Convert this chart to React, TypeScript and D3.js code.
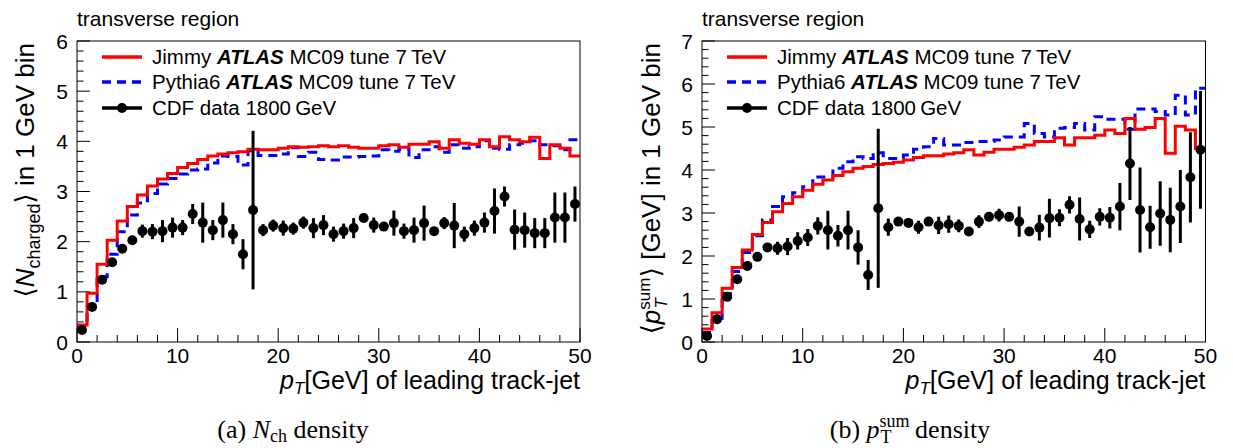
import React from 'react';
import * as d3 from 'd3';

// ---------- data (1 GeV bins, 0..50 GeV) ----------
const xTickValues = [0, 10, 20, 30, 40, 50];
const yTicksNch = [0, 1, 2, 3, 4, 5, 6];
const yTicksPt = [0, 1, 2, 3, 4, 5, 6, 7];

const jimmyNch = [0.34, 0.97, 1.55, 2.03, 2.41, 2.70, 2.93, 3.11, 3.25, 3.36, 3.48, 3.56, 3.64, 3.71, 3.75, 3.77, 3.79, 3.84, 3.83, 3.83, 3.86, 3.89, 3.88, 3.89, 3.91, 3.89, 3.91, 3.88, 3.86, 3.86, 3.91, 3.93, 3.88, 3.94, 3.94, 3.99, 3.86, 4.03, 3.96, 3.94, 4.03, 3.89, 4.09, 4.03, 3.99, 4.08, 3.66, 3.93, 3.86, 3.71];
const pythiaNch = [0.30, 0.70, 1.30, 1.75, 2.20, 2.53, 2.77, 2.96, 3.15, 3.26, 3.35, 3.43, 3.45, 3.57, 3.71, 3.70, 3.53, 3.81, 3.72, 3.72, 3.75, 3.87, 3.70, 3.78, 3.64, 3.63, 3.69, 3.69, 3.70, 3.71, 3.83, 3.80, 3.84, 3.68, 3.83, 3.89, 3.78, 3.93, 3.86, 3.89, 4.01, 3.86, 3.84, 3.93, 3.96, 4.01, 3.93, 3.91, 3.83, 4.03];
const cdfNch = [0.24, 0.70, 1.24, 1.59, 1.86, 2.03, 2.21, 2.20, 2.21, 2.28, 2.28, 2.55, 2.38, 2.23, 2.43, 2.15, 1.75, 2.63, 2.23, 2.32, 2.27, 2.26, 2.38, 2.27, 2.33, 2.15, 2.21, 2.27, 2.47, 2.33, 2.30, 2.37, 2.21, 2.23, 2.37, 2.21, 2.37, 2.32, 2.15, 2.27, 2.38, 2.61, 2.90, 2.24, 2.23, 2.17, 2.17, 2.48, 2.48, 2.75];
const cdfNchErr = [0.03, 0.03, 0.04, 0.05, 0.06, 0.08, 0.13, 0.15, 0.22, 0.2, 0.15, 0.2, 0.4, 0.2, 0.35, 0.2, 0.3, 1.58, 0.12, 0.12, 0.15, 0.12, 0.12, 0.2, 0.2, 0.15, 0.15, 0.2, 0.06, 0.15, 0.08, 0.25, 0.15, 0.25, 0.35, 0.08, 0.12, 0.45, 0.15, 0.15, 0.2, 0.45, 0.2, 0.4, 0.35, 0.3, 0.3, 0.5, 0.5, 0.35];

const jimmyPt = [0.30, 0.68, 1.25, 1.73, 2.14, 2.50, 2.78, 3.03, 3.22, 3.38, 3.53, 3.67, 3.77, 3.87, 3.96, 4.04, 4.08, 4.13, 4.15, 4.18, 4.23, 4.29, 4.33, 4.33, 4.37, 4.40, 4.47, 4.35, 4.41, 4.48, 4.48, 4.53, 4.58, 4.66, 4.66, 4.75, 4.58, 4.75, 4.75, 4.81, 4.93, 4.85, 5.20, 4.95, 4.99, 5.20, 4.39, 5.02, 4.93, 4.50];
const pythiaPt = [0.22, 0.55, 1.13, 1.64, 2.08, 2.47, 2.84, 3.15, 3.38, 3.47, 3.61, 3.84, 3.84, 4.04, 4.19, 4.31, 4.27, 4.40, 4.27, 4.27, 4.35, 4.48, 4.54, 4.73, 4.58, 4.58, 4.64, 4.66, 4.66, 4.70, 4.77, 4.77, 5.08, 4.85, 4.77, 4.97, 4.99, 5.08, 4.93, 5.24, 5.18, 5.18, 4.95, 5.42, 5.42, 5.36, 5.28, 5.74, 5.28, 5.90];
const cdfPt = [0.14, 0.53, 1.05, 1.46, 1.77, 1.98, 2.20, 2.18, 2.22, 2.35, 2.43, 2.70, 2.60, 2.47, 2.60, 2.20, 1.56, 3.11, 2.67, 2.80, 2.77, 2.67, 2.80, 2.71, 2.74, 2.70, 2.57, 2.80, 2.91, 2.95, 2.91, 2.80, 2.57, 2.66, 2.88, 2.89, 3.19, 2.86, 2.62, 2.91, 2.89, 3.15, 4.15, 3.07, 2.67, 2.99, 2.84, 3.15, 3.83, 4.47];
const cdfPtErr = [0.03, 0.03, 0.04, 0.05, 0.06, 0.07, 0.1, 0.15, 0.2, 0.2, 0.2, 0.2, 0.45, 0.25, 0.45, 0.4, 0.35, 1.85, 0.2, 0.08, 0.1, 0.15, 0.08, 0.2, 0.2, 0.15, 0.1, 0.15, 0.08, 0.15, 0.08, 0.35, 0.08, 0.3, 0.45, 0.2, 0.2, 0.5, 0.2, 0.2, 0.25, 0.55, 0.85, 0.99, 0.5, 0.75, 0.75, 0.85, 1.05, 1.37];

const legendLabels = ['Jimmy', 'Pythia6', 'CDF data 1800\u2009GeV'];

const SANS = "'Liberation Sans', Arial, Helvetica, 'DejaVu Sans', sans-serif";
const SERIF = "'Liberation Serif', 'Times New Roman', 'DejaVu Serif', serif";
const RED = '#ff0000';
const BLUE = '#0000ff';

type PanelProps = {
  id: string;
  left: number;
  right: number;
  yMax: number;
  yTicks: number[];
  jimmy: number[];
  pythia: number[];
  cdf: number[];
  cdfErr: number[];
  yTitle: React.ReactNode;
  yTitleX: number;
};

const TOP = 41;
const BOTTOM = 342;

function Panel(p: PanelProps) {
  const x = d3.scaleLinear().domain([0, 50]).range([p.left, p.right]);
  const y = d3.scaleLinear().domain([0, p.yMax]).range([BOTTOM, TOP]);
  const step = (vals: number[]) =>
    d3.line<[number, number]>().x(d => x(d[0])).y(d => y(d[1]))(
      vals.flatMap((v, i) => [[i, v], [i + 1, v]] as [number, number][])
    ) || '';
  const yMinor = d3.range(0, p.yMax + 0.001, 0.2);
  const xMinor = d3.range(0, 50.001, 2);
  const clipId = 'clip-' + p.id;
  const lx0 = p.left + 25;
  const lx1 = p.left + 65;
  const tx = p.left + 75;
  const rows = [57, 82, 108];
  return (
    <g>
      <defs>
        <clipPath id={clipId}>
          <rect x={p.left} y={TOP} width={p.right - p.left} height={BOTTOM - TOP} />
        </clipPath>
      </defs>
      {/* transverse region */}
      <text x={p.left} y={26} fontFamily={SANS} fontSize={21}>transverse region</text>
      {/* ticks */}
      {yMinor.map((v, i) => {
        const major = Math.abs(v - Math.round(v)) < 1e-6;
        return <line key={'ym' + i} x1={p.left} x2={p.left + (major ? 13 : 6.5)} y1={y(v)} y2={y(v)} stroke="#000" strokeWidth={1} />;
      })}
      {xMinor.map((v, i) => {
        const major = v % 10 === 0;
        return <line key={'xm' + i} x1={x(v)} x2={x(v)} y1={BOTTOM} y2={BOTTOM - (major ? 14 : 7)} stroke="#000" strokeWidth={1} />;
      })}
      {p.yTicks.map(v => (
        <text key={'yl' + v} x={p.left - 9} y={y(v)} dy="0.36em" textAnchor="end" fontFamily={SANS} fontSize={21}>{v}</text>
      ))}
      {xTickValues.map(v => (
        <text key={'xl' + v} x={x(v)} y={363} textAnchor="middle" fontFamily={SANS} fontSize={21}>{v}</text>
      ))}
      {/* histograms */}
      <g clipPath={`url(#${clipId})`}>
        <path d={step(p.pythia)} fill="none" stroke={BLUE} strokeWidth={3} strokeDasharray="9,6" />
        <path d={step(p.jimmy)} fill="none" stroke={RED} strokeWidth={3} />
        {p.cdf.map((v, i) => (
          <g key={'c' + i}>
            <line x1={x(i + 0.5)} x2={x(i + 0.5)} y1={y(v - p.cdfErr[i])} y2={y(v + p.cdfErr[i])} stroke="#000" strokeWidth={3} />
            <circle cx={x(i + 0.5)} cy={y(v)} r={5} fill="#000" />
          </g>
        ))}
      </g>
      {/* frame */}
      <rect x={p.left} y={TOP} width={p.right - p.left} height={BOTTOM - TOP} fill="none" stroke="#000" strokeWidth={1} />
      {/* legend */}
      <line x1={lx0} x2={lx1} y1={rows[0]} y2={rows[0]} stroke={RED} strokeWidth={3.5} />
      <line x1={lx0} x2={lx1} y1={rows[1]} y2={rows[1]} stroke={BLUE} strokeWidth={3.5} strokeDasharray="9,6" />
      <line x1={lx0} x2={lx1} y1={rows[2]} y2={rows[2]} stroke="#000" strokeWidth={3.5} />
      <circle cx={(lx0 + lx1) / 2} cy={rows[2]} r={5} fill="#000" />
      {[0, 1].map(k => (
        <text key={'lg' + k} x={tx} y={rows[k]} dy="0.36em" fontFamily={SANS} fontSize={20.5}>
          {legendLabels[k]} <tspan fontWeight="bold" fontStyle="italic">ATLAS</tspan> MC09 tune 7{'\u2009'}TeV
        </text>
      ))}
      <text x={tx} y={rows[2]} dy="0.36em" fontFamily={SANS} fontSize={20.5}>{legendLabels[2]}</text>
      {/* x title */}
      <text x={p.right} y={389} textAnchor="end" fontFamily={SANS} fontSize={25}>
        <tspan fontStyle="italic">p</tspan>
        <tspan fontStyle="italic" fontSize={17} dy={5}>T</tspan>
        <tspan dy={-5} fontSize={26}>[</tspan>GeV<tspan fontSize={26}>]</tspan> of leading track-jet
      </text>
      {/* y title */}
      <text transform={`translate(${p.yTitleX},43) rotate(-90)`} textAnchor="end" fontFamily={SANS} fontSize={26}>
        {p.yTitle}
      </text>
    </g>
  );
}

export default function App() {
  return (
    <svg width={1233} height={448} style={{ position: 'absolute', left: 0, top: 0, background: '#fff' }}>
      <rect width={1233} height={448} fill="#fff" />
      <Panel
        id="a" left={77} right={580} yMax={6} yTicks={yTicksNch}
        jimmy={jimmyNch} pythia={pythiaNch} cdf={cdfNch} cdfErr={cdfNchErr}
        yTitleX={34}
        yTitle={<>
          <tspan>⟨</tspan><tspan fontStyle="italic">N</tspan>
          <tspan fontSize={18} dy={6}>charged</tspan><tspan dy={-6}>⟩ in 1 GeV bin</tspan>
        </>}
      />
      <Panel
        id="b" left={702} right={1205.5} yMax={7} yTicks={yTicksPt}
        jimmy={jimmyPt} pythia={pythiaPt} cdf={cdfPt} cdfErr={cdfPtErr}
        yTitleX={660}
        yTitle={<>
          <tspan>⟨</tspan><tspan fontStyle="italic">p</tspan>
          <tspan fontSize={17} dy={-10}>sum</tspan>
          <tspan fontSize={17} fontStyle="italic" dx={-31} dy={17}>T</tspan>
          <tspan dx={21} dy={-7}>⟩ [GeV] in 1 GeV bin</tspan>
        </>}
      />
      {/* captions */}
      <text x={293} y={438} textAnchor="middle" fontFamily={SERIF} fontSize={26}>
        (a) <tspan fontStyle="italic">N</tspan><tspan fontSize={18} dy={4}>ch</tspan><tspan dy={-4}> density</tspan>
      </text>
      <text x={910} y={438} textAnchor="middle" fontFamily={SERIF} fontSize={26}>
        (b) <tspan fontStyle="italic">p</tspan><tspan fontSize={18} dy={-11}>sum</tspan>
        <tspan fontSize={18} dx={-29} dy={16}>T</tspan><tspan dx={17} dy={-5}> density</tspan>
      </text>
    </svg>
  );
}
